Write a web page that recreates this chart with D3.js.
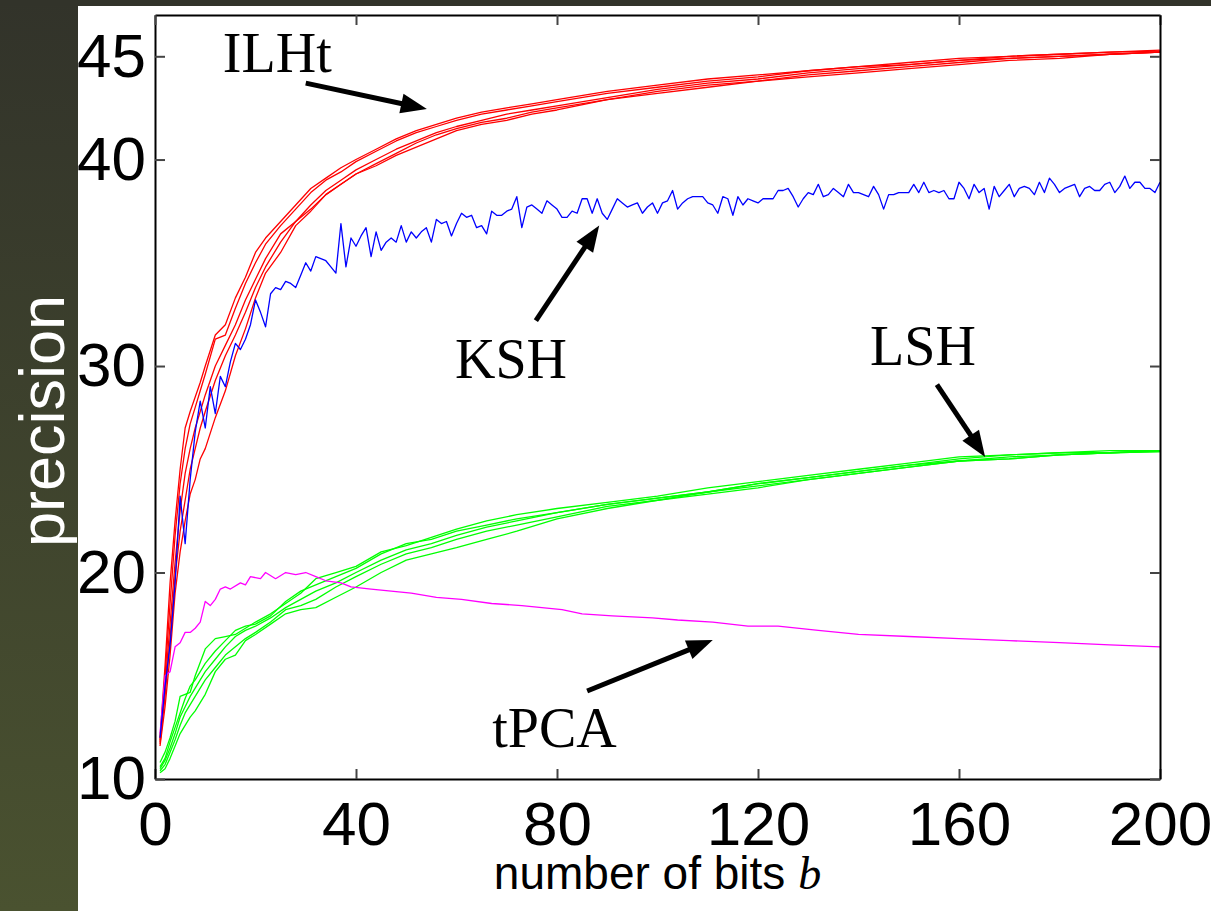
<!DOCTYPE html>
<html>
<head>
<meta charset="utf-8">
<script src="https://cdn.jsdelivr.net/npm/d3@7"></script>
<style>
body { margin: 0; background: #fff; }
svg { display: block; }
.axis path { stroke: #000; stroke-width: 2; fill: none; }
.axis line { stroke: #444; stroke-width: 2; }
.axis text { font-family: "Liberation Sans", Arial, sans-serif; font-size: 62px; fill: #000; }
.run { fill: none; stroke-width: 1.3; stroke-linejoin: round; }
.note { font-family: "Liberation Serif", "Times New Roman", serif; font-size: 56px; fill: #000; }
</style>
</head>
<body>
<svg class="chart" width="1211" height="911"></svg>
<script>
// precision vs number of bits

// ILHt, five runs
var ilhBits = [1,2,3,4,5,6,7,8,9,10,12,14,16,18,20,22,25,28,31,34,37,40,44,48,52,56,60,65,70,75,80,90,100,110,120,130,140,150,160,170,180,190,200];
var ilhRun1 = [12.0,15.5,19.5,22.5,25.0,27.0,27.8,28.5,29.2,30.0,31.5,32.0,33.3,34.3,35.5,36.2,37.0,37.8,38.6,39.1,39.6,40.0,40.5,41.0,41.4,41.7,42.0,42.3,42.5,42.7,42.9,43.3,43.6,43.9,44.1,44.3,44.5,44.7,44.9,45.0,45.1,45.2,45.3];
var ilhRun2 = [11.9,15.0,18.5,21.8,24.3,26.0,27.2,28.0,28.8,29.6,31.3,31.5,32.8,34.0,35.0,35.9,36.8,37.6,38.4,39.0,39.4,39.9,40.4,40.9,41.3,41.6,41.9,42.2,42.4,42.6,42.8,43.2,43.5,43.8,44.0,44.3,44.5,44.6,44.8,45.0,45.1,45.2,45.25];
var ilhRun3 = [11.8,14.5,17.5,20.5,23.0,24.8,26.0,27.0,27.8,28.6,30.0,31.0,32.0,33.2,34.2,35.2,36.4,37.0,37.8,38.5,39.0,39.5,40.0,40.5,40.9,41.3,41.6,41.9,42.2,42.4,42.6,43.0,43.4,43.7,43.9,44.2,44.4,44.6,44.8,44.9,45.0,45.1,45.2];
var ilhRun4 = [11.7,14.0,16.8,19.8,22.0,23.5,25.0,26.0,27.0,27.8,29.3,30.5,31.5,32.6,33.8,34.8,36.0,37.0,37.6,38.3,38.8,39.3,39.8,40.3,40.8,41.2,41.5,41.8,42.0,42.3,42.5,42.9,43.3,43.6,43.8,44.1,44.3,44.5,44.7,44.9,45.0,45.1,45.2];
var ilhRun5 = [11.6,13.5,16.0,19.0,21.0,22.5,23.8,24.5,25.5,26.0,27.5,28.8,30.5,31.8,33.3,34.5,35.5,36.8,37.5,38.3,38.8,39.3,39.7,40.2,40.6,41.0,41.4,41.7,41.9,42.2,42.4,42.9,43.2,43.5,43.8,44.0,44.2,44.4,44.6,44.8,44.9,45.1,45.2];

// LSH, five runs
var lshBits = [1,2,3,4,5,6,7,8,10,12,14,16,18,20,23,26,29,32,36,40,45,50,55,60,66,72,80,90,100,110,120,130,140,150,160,170,180,190,200];
var lshRun1 = [10.8,11.3,12.0,12.8,14.0,14.1,14.2,15.0,16.3,16.8,16.9,17.0,17.3,17.6,18.0,18.5,19.0,19.7,20.0,20.3,21.0,21.3,21.7,22.1,22.5,22.8,23.1,23.4,23.7,24.1,24.4,24.7,25.0,25.3,25.6,25.7,25.8,25.9,25.9];
var lshRun2 = [10.6,11.0,11.8,12.5,13.2,13.9,14.5,14.8,15.6,16.2,16.7,17.2,17.4,17.5,17.9,18.6,19.1,19.4,19.8,20.2,20.9,21.4,21.6,22.0,22.3,22.6,22.9,23.3,23.6,23.9,24.3,24.6,24.9,25.2,25.5,25.7,25.8,25.8,25.9];
var lshRun3 = [10.5,10.9,11.5,12.2,13.0,13.5,14.0,14.4,15.2,15.8,16.4,16.9,17.2,17.4,17.8,18.3,18.7,19.1,19.5,20.0,20.6,21.1,21.4,21.8,22.2,22.5,22.9,23.3,23.6,23.9,24.3,24.6,24.9,25.2,25.4,25.6,25.7,25.8,25.9];
var lshRun4 = [10.4,10.7,11.3,11.9,12.6,13.2,13.6,14.0,14.8,15.4,16.0,16.4,16.8,17.1,17.6,18.2,18.4,18.7,19.3,19.8,20.4,20.9,21.2,21.6,22.0,22.3,22.7,23.2,23.5,23.9,24.2,24.5,24.8,25.1,25.4,25.5,25.7,25.8,25.85];
var lshRun5 = [10.3,10.5,11.0,11.6,12.2,12.6,13.0,13.3,14.1,15.2,15.8,16.0,16.7,17.0,17.5,18.0,18.2,18.3,18.8,19.3,20.0,20.6,20.9,21.2,21.6,22.0,22.6,23.1,23.5,23.8,24.1,24.5,24.8,25.1,25.4,25.5,25.7,25.8,25.85];

// tPCA
var pcaBits = [1,2,3,4,5,6,7,8,9,10,11,12,13,14,15,17,18,19,21,22,24,26,28,30,32,34,37,39,43,47,51,56,61,67,73,81,85,91,99,104,111,118,124,132,140,150,160,170,180,190,200];
var pcaValues = [12.2,15.0,15.2,16.4,16.6,17.1,17.1,17.3,17.6,18.6,18.4,18.7,19.2,19.3,19.2,19.5,19.4,19.8,19.7,20.0,19.7,20.0,19.9,20.0,19.8,19.6,19.5,19.3,19.2,19.1,19.0,18.8,18.7,18.5,18.4,18.2,18.0,17.9,17.8,17.7,17.6,17.4,17.4,17.2,17.0,16.9,16.8,16.7,16.6,16.5,16.4];

// KSH, one value per bit, b = 1..200
var kshValues = [
	12.0,14.5,16.5,19.5,23.7,21.4,24.5,26.8,28.3,27.0,
	29.0,27.7,29.5,29.0,30.2,31.1,30.8,31.3,32.0,33.2,
	32.6,31.9,33.5,33.8,33.7,34.1,34.0,33.8,34.4,35.0,
	34.6,35.3,35.2,35.1,34.8,34.5,36.9,34.8,36.2,35.8,
	36.3,36.7,35.3,36.5,35.6,36.0,36.2,36.0,36.8,36.0,
	36.5,36.2,36.5,36.7,36.0,37.1,36.9,37.0,36.3,36.9,
	37.4,37.2,37.3,36.7,36.8,36.4,37.5,37.3,37.3,37.5,
	37.6,38.2,36.7,37.7,37.8,37.6,37.4,38.0,37.8,37.6,
	37.2,37.2,37.5,37.4,38.1,38.1,37.4,38.1,37.4,37.1,
	37.6,38.1,37.9,37.7,37.8,37.9,37.4,37.7,37.9,37.4,
	37.9,38.0,38.5,37.6,37.9,38.1,38.2,38.2,38.2,37.9,
	37.8,37.4,38.2,38.1,37.3,38.2,37.8,38.1,38.0,37.9,
	38.1,38.1,38.1,38.5,38.5,38.6,38.2,37.7,38.1,38.4,
	38.3,38.8,38.2,38.3,38.6,38.4,38.2,38.8,38.4,38.4,
	38.3,38.2,38.7,38.3,37.6,38.3,38.3,38.4,38.4,38.4,
	38.8,38.4,38.9,38.4,38.5,38.4,38.5,38.1,38.1,38.9,
	38.6,38.1,38.8,38.4,38.6,37.6,38.7,38.2,38.5,38.8,
	38.2,38.6,38.7,38.6,38.3,38.9,38.4,39.1,38.8,38.4,
	38.6,38.7,38.8,38.2,38.6,38.7,38.5,38.5,38.8,38.9,
	38.4,38.7,39.2,38.6,38.9,38.9,38.6,38.6,38.4,38.9
];

var xTicks = [0, 40, 80, 120, 160, 200];
var yTicks = [10, 20, 30, 40, 45];

// annotations, in (bits, precision)
var noteNames = ["ILHt", "KSH", "LSH", "tPCA"];
var noteAt = [[13.5, 44.24], [59.7, 29.4], [142.3, 30.05], [67.1, 11.55]];
var arrowFrom = [[30.0, 43.7], [75.8, 32.2], [155.6, 29.1], [86.0, 14.26]];
var arrowTo = [[54.1, 42.45], [88.4, 36.8], [165.2, 25.6], [111.0, 16.73]];

// plot box in page pixels
var boxLeft = 155, boxTop = 15, boxRight = 1160, boxBottom = 779;
var width = boxRight - boxLeft;
var height = boxBottom - boxTop;

var svg = d3.select(".chart");

// page decoration: dark bar on top, olive strip on the left
var grad = svg.append("defs").append("linearGradient")
	.attr("id", "strip")
	.attr("x1", 0).attr("y1", 0).attr("x2", 0).attr("y2", 1);
grad.append("stop").attr("offset", "0%").attr("stop-color", "#32332a");
grad.append("stop").attr("offset", "100%").attr("stop-color", "#4a5230");

svg.append("rect").attr("x", 0).attr("y", 0).attr("width", 78).attr("height", 911)
	.attr("fill", "url(#strip)");
svg.append("rect").attr("x", 0).attr("y", 0).attr("width", 1211).attr("height", 6)
	.attr("fill", "#32332a");

svg.append("text")
	.attr("transform", "translate(64,421) rotate(-90)")
	.attr("text-anchor", "middle")
	.style("font-family", "'Liberation Sans', Arial, sans-serif")
	.style("font-size", "63px")
	.style("fill", "#fff")
	.text("precision");

var chart = svg.append("g")
	.attr("transform", "translate(" + boxLeft + "," + boxTop + ")");

var x = d3.scaleLinear().domain([0, 200]).range([0, width]);
var y = d3.scaleLinear().domain([10, 47]).range([height, 0]);

var line = d3.line()
	.x(function(d) { return x(d[0]); })
	.y(function(d) { return y(d[1]); });

function pairs(bits, vals) {
	return vals.map(function(v, i) { return [bits[i], v]; });
}

var series = [
	{ color: "#ff0000", data: [ilhRun1, ilhRun2, ilhRun3, ilhRun4, ilhRun5].map(function(r) { return pairs(ilhBits, r); }) },
	{ color: "#00ff00", data: [lshRun1, lshRun2, lshRun3, lshRun4, lshRun5].map(function(r) { return pairs(lshBits, r); }) },
	{ color: "#ff00ff", data: [pairs(pcaBits, pcaValues)] },
	{ color: "#0000ff", data: [kshValues.map(function(v, i) { return [i + 1, v]; })] }
];

series.forEach(function(s) {
	chart.append("g").selectAll("path")
		.data(s.data)
	.enter().append("path")
		.attr("class", "run")
		.attr("stroke", s.color)
		.attr("d", line);
});

// box with inward ticks on all four sides
chart.append("g").attr("class", "axis")
	.attr("transform", "translate(0," + height + ")")
	.call(d3.axisBottom(x).tickValues(xTicks).tickSizeInner(-10).tickSizeOuter(0).tickPadding(22));
chart.append("g").attr("class", "axis")
	.call(d3.axisLeft(y).tickValues(yTicks).tickSizeInner(-10).tickSizeOuter(0).tickPadding(9));
chart.append("g").attr("class", "axis")
	.call(d3.axisTop(x).tickValues(xTicks).tickSizeInner(-10).tickSizeOuter(0).tickFormat(""));
chart.append("g").attr("class", "axis")
	.attr("transform", "translate(" + width + ",0)")
	.call(d3.axisRight(y).tickValues(yTicks).tickSizeInner(-10).tickSizeOuter(0).tickFormat(""));

// x axis title
var xt = svg.append("text")
	.attr("x", boxLeft + width / 2)
	.attr("y", 889)
	.attr("text-anchor", "middle")
	.style("font-family", "'Liberation Sans', Arial, sans-serif")
	.style("font-size", "46px")
	.text("number of bits ");
xt.append("tspan")
	.style("font-family", "'Liberation Serif', 'Times New Roman', serif")
	.style("font-style", "italic")
	.text("b");

// labels and arrows
chart.selectAll(".note")
	.data(noteNames)
.enter().append("text")
	.attr("class", "note")
	.attr("x", function(d, i) { return x(noteAt[i][0]); })
	.attr("y", function(d, i) { return y(noteAt[i][1]); })
	.text(function(d) { return d; });

noteNames.forEach(function(n, i) {
	var x0 = x(arrowFrom[i][0]), y0 = y(arrowFrom[i][1]);
	var x1 = x(arrowTo[i][0]), y1 = y(arrowTo[i][1]);
	var a = Math.atan2(y1 - y0, x1 - x0);
	var len = 26, half = 10;
	var bx = x1 - len * Math.cos(a), by = y1 - len * Math.sin(a);
	chart.append("line")
		.attr("x1", x0).attr("y1", y0)
		.attr("x2", bx + 2 * Math.cos(a)).attr("y2", by + 2 * Math.sin(a))
		.attr("stroke", "#000")
		.attr("stroke-width", 5);
	chart.append("polygon")
		.attr("points", [
			[x1, y1],
			[bx - half * Math.sin(a), by + half * Math.cos(a)],
			[bx + half * Math.sin(a), by - half * Math.cos(a)]
		].map(function(p) { return p.join(","); }).join(" "))
		.attr("fill", "#000");
});
</script>
</body>
</html>
